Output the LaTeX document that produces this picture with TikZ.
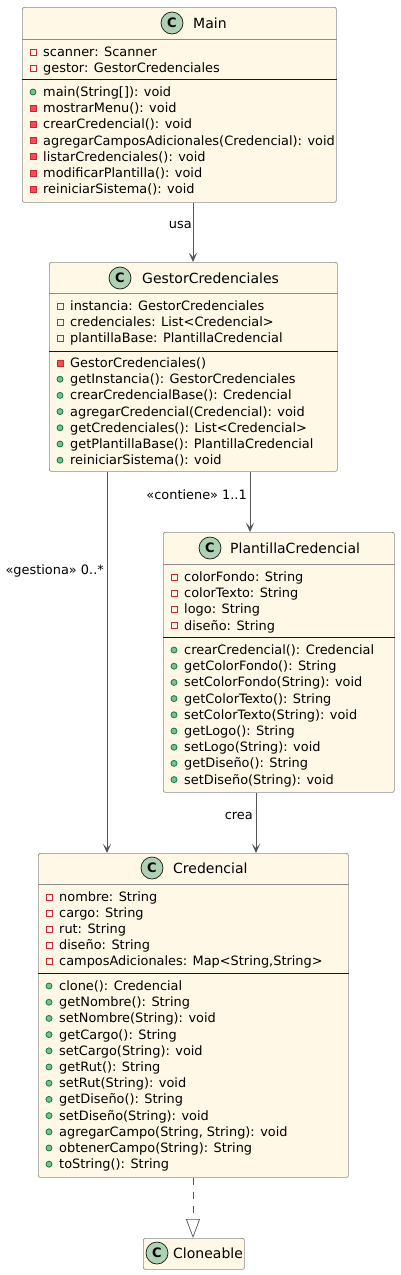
\documentclass[tikz,border=0pt]{standalone}
\usepackage{fontspec}
\setmainfont{DejaVu Sans}
\usetikzlibrary{arrows.meta}
\definecolor{classbg}{HTML}{FFF8E6}
\definecolor{classline}{HTML}{8C8C8C}
\definecolor{darkline}{HTML}{181818}
\definecolor{spotgreen}{HTML}{ADD1B2}
\definecolor{privred}{HTML}{C82930}
\definecolor{privfill}{HTML}{F24D5C}
\definecolor{pubgreen}{HTML}{038048}
\definecolor{pubfill}{HTML}{84BE84}
\definecolor{edge}{HTML}{555555}

\begin{document}
\begin{tikzpicture}[x=1pt,y=-1pt,
  cls/.style={draw=classline,fill=classbg,rounded corners=2pt,line width=0.7pt,
    anchor=north west,inner sep=0pt},
  spot/.style={circle,draw=darkline,fill=spotgreen,line width=0.7pt,minimum size=22pt,
    inner sep=0pt,font=\fontsize{13}{13}\selectfont\bfseries},
  title/.style={anchor=west,inner sep=0pt,text height=10pt,text depth=0pt,
    font=\fontsize{14}{14}\selectfont},
  mem/.style={anchor=base west,inner sep=0pt,font=\fontsize{12.9}{15}\selectfont},
  headline/.style={draw=classline,line width=0.7pt},
  divider/.style={draw=darkline,line width=0.7pt},
  pf/.style={rectangle,draw=privred,line width=0.8pt,minimum size=6pt,inner sep=0pt},
  pm/.style={rectangle,draw=privred,fill=privfill,line width=0.8pt,minimum size=6pt,inner sep=0pt},
  pu/.style={circle,draw=pubgreen,fill=pubfill,line width=0.8pt,minimum size=6pt,inner sep=0pt},
  assoc/.style={draw=edge,line width=0.9pt,-{Stealth[length=9pt,width=8pt,inset=4pt]}},
  realize/.style={draw=edge,line width=0.7pt,dash pattern=on 7pt off 7pt,
    -{Triangle[open,length=19pt,width=14pt]}},
  lbl/.style={anchor=base east,inner sep=0pt,font=\fontsize{12.9}{15}\selectfont}
]
\useasboundingbox (0,0) rectangle (400,1275);

% Main
\node[cls,minimum width=314pt,minimum height=195pt] (main) at (22,7) {};
\node[spot] (main-c) at (172,23) {C};
\node[title] (main-t) at (193,23) {Main};
\draw[headline] (main.west |- 0,39) -- (main.east |- 0,39);
\draw[divider] (main.west |- 0,79) -- (main.east |- 0,79);
\foreach \t [count=\i from 0] in {scanner: Scanner, gestor: GestorCredenciales}{
  \node[pf] (main-ai\i) at (33,52+16.2*\i) {};
  \node[mem] (main-a\i) at (43,56.5+16.2*\i) {\t};
}
\foreach \k/\t [count=\i from 0] in {pu/{main(String[]): void},pm/{mostrarMenu(): void},
  pm/{crearCredencial(): void},pm/{agregarCamposAdicionales(Credencial): void},
  pm/{listarCredenciales(): void},pm/{modificarPlantilla(): void},pm/{reiniciarSistema(): void}}{
  \node[\k] (main-oi\i) at (33,92+16.2*\i) {};
  \node[mem] (main-o\i) at (43,96.5+16.2*\i) {\t};
}

% GestorCredenciales
\node[cls,minimum width=288pt,minimum height=209pt] (gestor) at (49,262) {};
\node[spot] (gestor-c) at (120,278) {C};
\node[title] (gestor-t) at (142,278) {GestorCredenciales};
\draw[headline] (gestor.west |- 0,293) -- (gestor.east |- 0,293);
\draw[divider] (gestor.west |- 0,351) -- (gestor.east |- 0,351);
\foreach \t [count=\i from 0] in {instancia: GestorCredenciales,
  credenciales: List<Credencial>,plantillaBase: PlantillaCredencial}{
  \node[pf] (gestor-ai\i) at (60,306+16.2*\i) {};
  \node[mem] (gestor-a\i) at (70,310.5+16.2*\i) {\t};
}
\foreach \k/\t [count=\i from 0] in {pm/{GestorCredenciales()},
  pu/{getInstancia(): GestorCredenciales},pu/{crearCredencialBase(): Credencial},
  pu/{agregarCredencial(Credencial): void},pu/{getCredenciales(): List<Credencial>},
  pu/{getPlantillaBase(): PlantillaCredencial},pu/{reiniciarSistema(): void}}{
  \node[\k] (gestor-oi\i) at (60,363+16.2*\i) {};
  \node[mem] (gestor-o\i) at (70,367.5+16.2*\i) {\t};
}

% PlantillaCredencial
\node[cls,minimum width=231pt,minimum height=260pt] (plantilla) at (163,532) {};
\node[spot] (plantilla-c) at (210,548) {C};
\node[title] (plantilla-t) at (230,548) {PlantillaCredencial};
\draw[headline] (plantilla.west |- 0,564) -- (plantilla.east |- 0,564);
\draw[divider] (plantilla.west |- 0,637) -- (plantilla.east |- 0,637);
\foreach \t [count=\i from 0] in {colorFondo: String,colorTexto: String,
  logo: String,diseño: String}{
  \node[pf] (plantilla-ai\i) at (174,577+16.2*\i) {};
  \node[mem] (plantilla-a\i) at (184,581.5+16.2*\i) {\t};
}
\foreach \t [count=\i from 0] in {crearCredencial(): Credencial,
  getColorFondo(): String,setColorFondo(String): void,getColorTexto(): String,
  setColorTexto(String): void,getLogo(): String,setLogo(String): void,
  getDiseño(): String,setDiseño(String): void}{
  \node[pu] (plantilla-oi\i) at (174,650+16.2*\i) {};
  \node[mem] (plantilla-o\i) at (184,654.5+16.2*\i) {\t};
}

% Credencial
\node[cls,minimum width=310pt,minimum height=324pt] (credencial) at (38,853) {};
\node[spot] (credencial-c) at (152,868) {C};
\node[title] (credencial-t) at (173,868) {Credencial};
\draw[headline] (credencial.west |- 0,884) -- (credencial.east |- 0,884);
\draw[divider] (credencial.west |- 0,973) -- (credencial.east |- 0,973);
\foreach \t [count=\i from 0] in {nombre: String,cargo: String,rut: String,
  diseño: String,{camposAdicionales: Map<String,String>}}{
  \node[pf] (credencial-ai\i) at (49,897+16.1*\i) {};
  \node[mem] (credencial-a\i) at (59,901.5+16.1*\i) {\t};
}
\foreach \t [count=\i from 0] in {clone(): Credencial,getNombre(): String,
  setNombre(String): void,getCargo(): String,setCargo(String): void,
  getRut(): String,setRut(String): void,getDiseño(): String,
  setDiseño(String): void,{agregarCampo(String, String): void},
  obtenerCampo(String): String,toString(): String}{
  \node[pu] (credencial-oi\i) at (49,986+16.2*\i) {};
  \node[mem] (credencial-o\i) at (59,990.5+16.2*\i) {\t};
}

% Cloneable
\node[cls,minimum width=101pt,minimum height=31pt] (cloneable) at (143,1238) {};
\node[spot] (cloneable-c) at (157,1253) {C};
\node[title] (cloneable-t) at (173,1253) {Cloneable};

% relations
\draw[assoc] (main.south -| 193,0) -- (gestor.north -| 193,0);
\node[lbl] (usa) at (192,228.5) {usa};
\draw[assoc] (gestor.south -| 250,0) -- (plantilla.north -| 250,0);
\node[lbl] (contiene) at (247,499.5) {«contiene» 1..1};
\draw[assoc] (gestor.south -| 107,0) -- (credencial.north -| 107,0);
\node[lbl] (gestiona) at (104,574.5) {«gestiona» 0..*};
\draw[assoc] (plantilla.south -| 256,0) -- (credencial.north -| 256,0);
\node[lbl] (crea) at (253,819.5) {crea};
\draw[realize] (credencial.south -| 193,0) -- (cloneable.north -| 193,0);
\end{tikzpicture}
\end{document}
